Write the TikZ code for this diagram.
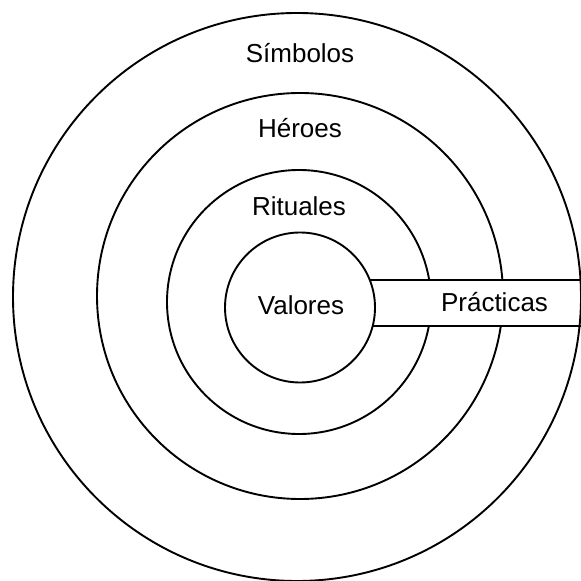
\documentclass[tikz,border=0pt]{standalone}
\usepackage{fontspec}
\setmainfont{Liberation Sans}
\usetikzlibrary{calc, positioning}

\tikzset{lbl/.style={anchor=base, font=\fontsize{13}{15}\selectfont, inner sep=0pt}}

\begin{document}
\begin{tikzpicture}[x=0.5pt, y=-0.5pt, line width=0.95pt]
    % Frame of the picture
    \useasboundingbox (0,0) rectangle (581,581);

    % Define the centres of the rings
    \coordinate (S) at (297,297);
    \coordinate (H) at (300,296);
    \coordinate (R) at (299,302);
    \coordinate (V) at (300,307.5);

    % Define the corners of the band
    \coordinate (P1) at (300,280);
    \coordinate (P2) at (581,280);
    \coordinate (P3) at (300,326);
    \coordinate (P4) at (581,326);

    % Draw the outer rings
    \draw (S) circle[radius=284];
    \draw (H) circle[radius=203];
    \draw (R) circle[radius=132];

    % Draw the band across the rings
    \fill[white] (P1) rectangle ($(P4)+(-4,0)$);
    \draw (P1) -- (P2);
    \draw (P3) -- (P4);

    % Draw the inner ring on top
    \draw[fill=white] (V) circle[radius=75];

    % Place the labels
    \node[lbl] (simbolos) at (300,63) {Símbolos};
    \node[lbl] (heroes) at (300,138) {Héroes};
    \node[lbl] (rituales) at (299,216) {Rituales};
    \node[lbl] (valores) at (301,315) {Valores};
    \node[lbl] (practicas) at (494.5,312) {Prácticas};

\end{tikzpicture}
\end{document}
